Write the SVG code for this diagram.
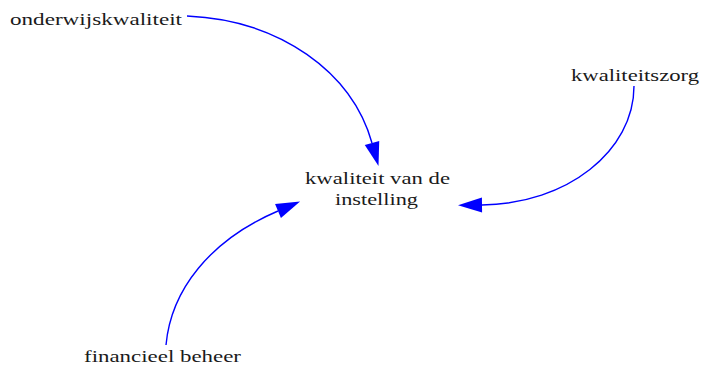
<svg xmlns="http://www.w3.org/2000/svg" width="702" height="367" viewBox="0 0 702 367">
<style>
  .lbl { font-size: 17px; fill: #1a1a1a; }
  .link { fill: none; stroke: #0000ff; stroke-width: 1.4; marker-end: url(#head); }
</style>
<defs>
  <marker id="head" markerUnits="userSpaceOnUse" markerWidth="26" markerHeight="16" refX="0" refY="7.5" orient="auto" overflow="visible">
    <path d="M0,0 L24,7.5 L0,15 Z" fill="#0000ff"/>
  </marker>
</defs>
<rect width="702" height="367" fill="#ffffff"/>
<g id="connectors">
  <path class="link" d="M187,16 C280,20 352,72 372,143"/>
  <path class="link" d="M634,86 C634,151 567,204 482,205"/>
  <path class="link" d="M166,345 C171,290 210,240 278,211"/>
</g>
<g font-family="Liberation Serif">
<g id="onderwijskwaliteit">
  <text class="lbl" x="10" y="25" textLength="172" lengthAdjust="spacingAndGlyphs">onderwijskwaliteit</text>
</g>
<g id="kwaliteitszorg">
  <text class="lbl" x="571" y="81" textLength="128" lengthAdjust="spacingAndGlyphs">kwaliteitszorg</text>
</g>
<g id="kwaliteit-van-de-instelling">
  <text class="lbl" x="305" y="184" textLength="145" lengthAdjust="spacingAndGlyphs">kwaliteit van de</text>
  <text class="lbl" x="335" y="205" textLength="83" lengthAdjust="spacingAndGlyphs">instelling</text>
</g>
<g id="financieel-beheer">
  <text class="lbl" x="84" y="362" textLength="157" lengthAdjust="spacingAndGlyphs">financieel beheer</text>
</g>
</g>
</svg>
